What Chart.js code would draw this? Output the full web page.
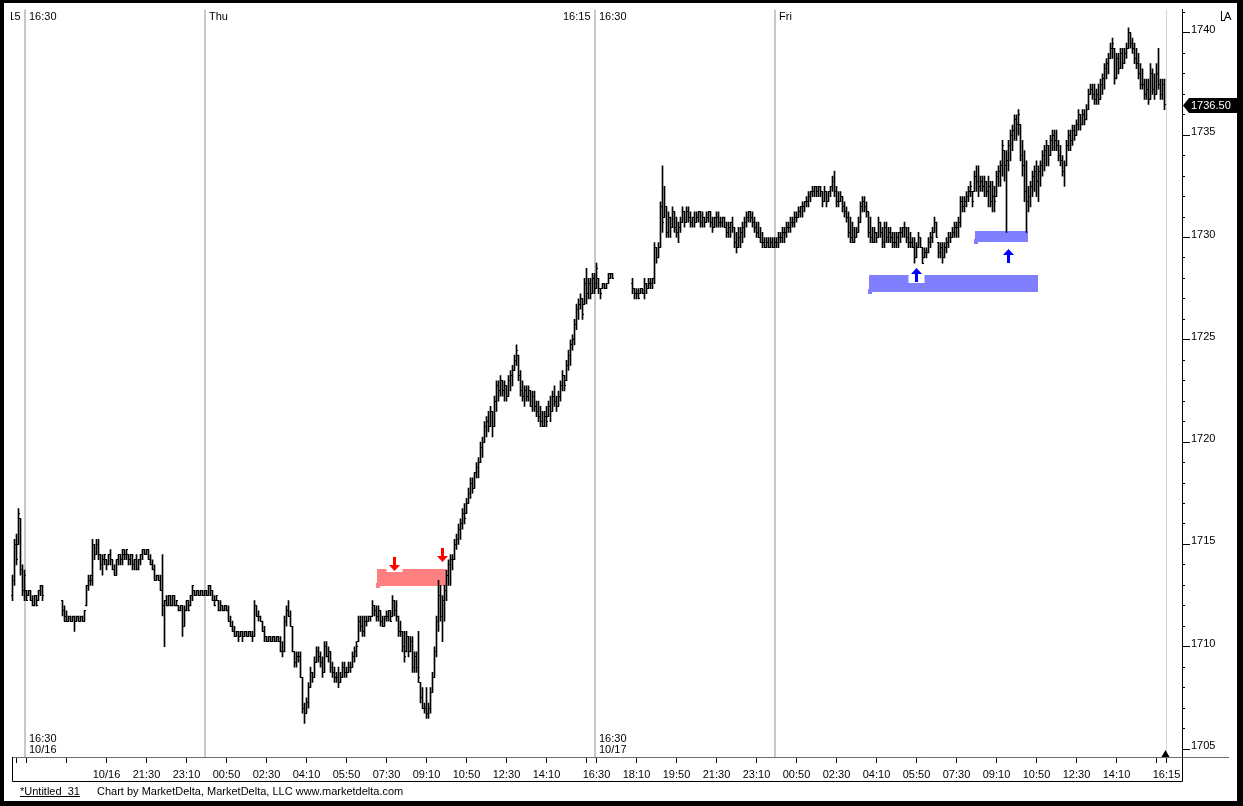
<!DOCTYPE html>
<html><head><meta charset="utf-8">
<script src="https://cdn.jsdelivr.net/npm/chart.js@4.4.1/dist/chart.umd.min.js"></script>
<style>html,body{margin:0;padding:0;background:#fff;overflow:hidden}canvas{display:block}</style>
</head><body>
<canvas id="c" width="1243" height="806"></canvas>
<script>
// ---- 5-minute OHLC bars (index 0 = first visible bar) ----
const highs = [
1713.5,1715.25,1715.5,1716.75,1716.25,1714,1713.75,1712.75,1712.75,1712.75,
1712.5,1712.5,1712.5,1712.75,1713,1713,null,null,null,null,
null,null,null,null,null,1712.25,1712,1711.75,1711.5,1711.5,
1711.5,1711.5,1711.5,1711.5,1711.5,1711.5,1711.75,1713,1713.5,1713.5,
1715.25,1715,1715.25,1715.25,1714.5,1714.5,1714.5,1714.25,1714.5,1714.75,
1714.25,1714,1714.25,1714.5,1714.5,1714.75,1714.75,1714.75,1714.5,1714.5,
1714.5,1714.25,1714.5,1714.25,1714.5,1714.75,1714.75,1714.75,1714.75,1714.5,
1714.25,1714,1713.5,1713.5,1713.5,1714.5,1712.25,1712.5,1712.5,1712.5,
1712.5,1712.5,1712.25,1712,1712,1712,1712,1712.25,1712.25,1712.5,
1713,1712.75,1712.75,1712.75,1712.75,1712.75,1712.75,1712.75,1713,1713,
1712.75,1712.5,1712.5,1712.25,1712.25,1712,1712,1712,1712,1711.5,
1711.25,1711,1710.75,1710.75,1710.75,1710.75,1710.75,1710.75,1710.75,1710.75,
1710.75,1712.25,1712,1711.75,1711.5,1711.25,1711,1710.5,1710.5,1710.5,
1710.5,1710.5,1710.5,1710.5,1710.5,1710.25,1711.5,1712,1712.25,1711.75,
1711,1709.75,1709.75,1709.75,1709.75,1708.5,1707.25,1707.5,1708.25,1709,
1708.75,1709.5,1710,1710,1709.75,1709.5,1710.25,1710.25,1710,1709.75,
1709.25,1709,1708.75,1709,1708.75,1709.25,1709.25,1709,1709.25,1709.25,
1709.75,1710,1710.25,1711.5,1711.5,1711.5,1711.5,1711.5,1711.5,1711.5,
1712.25,1712,1712,1712,1711.75,1711.5,1711.5,1711.75,1711.75,1711.75,
1712.5,1712.25,1712.25,1711.5,1711.25,1710.75,1710.75,1710.75,1710.5,1710.5,
1710.5,1709.75,1709.75,1710.75,1708.25,1708,1707.25,1708,1707.25,1708,
1708.75,1710,1711.5,1713.25,1713,1712.5,1713,1713.75,1714.25,1714.5,
1714.5,1715.25,1715.5,1716,1716.25,1716.75,1717,1717.25,1717.75,1718.25,
1718.25,1718.5,1719,1719.25,1720,1720.25,1721,1721.25,1721.5,1721.75,
1721.5,1722.25,1723,1723,1723.25,1723,1723,1722.75,1723.25,1723.5,
1723.75,1724.25,1724.75,1724.25,1723.5,1723,1722.75,1722.75,1722.75,1722.5,
1722.5,1722.5,1722,1722,1721.75,1721.5,1721.5,1721.75,1722,1722.25,
1722.5,1722.75,1722.25,1722.5,1723,1723.5,1723.25,1724,1724.5,1725,
1725.25,1726,1726.75,1727,1727.25,1727,1728,1728.5,1728,1728,
1728.25,1728.25,1728.75,1728,1727.5,1727.75,1727.75,1727.75,1728.25,1728.25,
1728.25,null,null,null,null,null,null,null,null,null,
1728,1727.5,1727.5,1727.5,1727.5,1727.5,1728,1727.75,1728,1728,
1728,1729.75,1729.5,1729.75,1731.75,1733.5,1732.5,1731.5,1731.25,1731,
1731.5,1731.25,1731,1730.75,1731,1731.5,1731.25,1731.5,1731.5,1731.25,
1731,1731.25,1731.25,1731.25,1731.25,1731.25,1731,1731.25,1731.25,1731.25,
1731,1731,1731.25,1731.25,1731,1731,1731,1730.75,1730.75,1730.75,
1731,1730.5,1730.25,1730.5,1730.5,1730.75,1731,1731.25,1731.25,1731.25,
1731.25,1731,1730.75,1730.75,1730.5,1730.25,1730,1730,1730,1730,
1730,1730,1730,1730.25,1730.25,1730.5,1730.5,1730.75,1730.75,1731,
1731,1731.25,1731.25,1731.5,1731.5,1731.75,1731.75,1732,1732.25,1732.25,
1732.5,1732.5,1732.5,1732.5,1732.5,1732.25,1732.5,1732.25,1732.25,1732.5,
1733,1733.25,1732.5,1732.25,1732.25,1732,1731.75,1731.5,1731.25,1731,
1730.75,1730.5,1730.5,1731,1731.75,1732,1732,1731.75,1731.25,1731,
1730.5,1730.5,1730.25,1731,1730.75,1730.5,1730.75,1730.75,1730.5,1730.5,
1730.25,1730.25,1730.25,1730.25,1730.5,1730.5,1730.75,1730.5,1730.5,1730.25,
1730,1730,1729.75,1730.25,1730,1729.5,1729.5,1729.5,1730,1730.25,
1730.5,1731,1730.75,1729.75,1729.75,1729.75,1729.75,1730,1730.25,1730.25,
1730.5,1730.75,1730.75,1731,1732,1732,1732,1732.25,1732.5,1732.75,
1732.25,1733.25,1733.5,1733.5,1733,1733,1733,1732.75,1733,1732.75,
1732.75,1732.5,1733.25,1733.5,1733.75,1734.75,1734.25,1734.25,1734.75,1735.25,
1735.5,1736,1736,1736.25,1735.5,1734.75,1734.25,1733.75,1732.5,1732.75,
1733.25,1733.5,1733.75,1733.5,1733.75,1734.25,1734.5,1734.75,1734.5,1735,
1735.25,1735.25,1735.25,1734.75,1734.5,1734,1733.75,1734.75,1735.25,1735.25,
1735.5,1735.5,1735.75,1736.25,1736,1736.25,1736.25,1736.5,1737.25,1737.5,
1737.5,1737.5,1737.25,1737.5,1737.75,1738,1738.5,1738.75,1739,1739.5,
1739.75,1739.25,1739,1739,1739.25,1739.25,1739.25,1739.5,1740.25,1740,
1739.75,1739.5,1739.25,1739,1738.5,1738.25,1737.75,1737.75,1737.75,1738.5,
1738.25,1738,1738.5,1739.25,1737.75,1737.75,1737.75
];
const lows = [
1712.25,1713,1714,1715,1713.5,1712.5,1712.25,1712.25,1712.5,1712.25,
1712,1712,1712,1712.25,1712.5,1712.25,null,null,null,null,
null,null,null,null,null,1711.5,1711.25,1711.25,1711.25,1711.25,
1711.25,1710.75,1711.25,1711.25,1711.25,1711.25,1711.25,1712,1712.75,1713,
1713,1714.25,1714.5,1714.25,1713.75,1713.5,1714,1713.75,1714,1714,
1713.75,1713.5,1713.5,1714,1714,1714,1714.25,1714.25,1714,1714,
1713.75,1713.75,1713.75,1713.75,1714,1714.25,1714.5,1714.5,1714.25,1714,
1713.75,1713.25,1713.25,1713.25,1712.75,1711.5,1710,1712,1712,1712,
1712,1712,1712,1711.75,1711.75,1710.5,1711,1711.75,1711.75,1712,
1712.25,1712.5,1712.5,1712.5,1712.5,1712.5,1712.5,1712.5,1712.5,1712.5,
1712.25,1712,1712.25,1711.75,1711.75,1711.75,1711.75,1711.75,1711.25,1711,
1710.75,1710.5,1710.5,1710.25,1710.5,1710.25,1710.5,1710.5,1710.5,1710.5,
1710.25,1710.5,1711.5,1711.25,1711.25,1710.75,1710.25,1710.25,1710.25,1710.25,
1710.25,1710.25,1710.25,1710.25,1709.75,1709.5,1709.75,1711,1711.5,1711,
1709.75,1709,1709,1709.25,1708.5,1706.75,1706.25,1706.75,1707,1708,
1708.25,1708.5,1709.25,1709.25,1709,1708.5,1708.75,1709.5,1709.25,1708.75,
1708.5,1708.25,1708.25,1708,1708.25,1708.5,1708.5,1708.5,1708.75,1708.75,
1709,1709.25,1709.5,1710.25,1710.75,1710.5,1710.5,1711,1711.25,1711.25,
1711.5,1711.5,1711.25,1711.25,1711,1711,1711,1711.25,1711.25,1711.25,
1711.5,1711.5,1711.25,1710.5,1710.5,1709.75,1709.25,1709.75,1709.5,1709.75,
1708.75,1708.75,1708.75,1708.25,1707.25,1707,1706.75,1706.5,1706.5,1706.75,
1707.75,1708.5,1709.5,1710.75,1711.25,1710.25,1711.25,1712.25,1713,1713,
1713.75,1714.25,1714.75,1715,1715.25,1715.75,1716,1716.5,1717,1717.25,
1717.5,1717.75,1718.25,1718.25,1719,1719.25,1720,1720.25,1720.5,1720.75,
1720.25,1720.75,1721.5,1722,1722.25,1722.25,1722,1722,1722.25,1722.5,
1722.75,1723.5,1723.75,1723,1722.25,1722,1721.75,1722,1722,1721.75,
1721.5,1721.5,1721.25,1721,1720.75,1720.75,1720.75,1720.75,1721.25,1721,
1721.5,1721.75,1721.5,1721.75,1722,1722.5,1722.5,1723,1723.5,1723.75,
1724.5,1724.75,1725.5,1726,1726.5,1726,1726.75,1726.75,1727,1727,
1727.25,1727.25,1727.5,1727.25,1727,1727.5,1727.5,1727.5,1727.75,1728,
1728,null,null,null,null,null,null,null,null,null,
1727.25,1727,1727,1727,1727.25,1727.25,1727,1727.25,1727.5,1727.5,
1727.5,1727.75,1728.75,1729,1729.5,1730.25,1731,1730,1730,1730,
1730.5,1730.25,1730,1729.75,1730.25,1730.75,1730.5,1730.75,1730.75,1730.5,
1730.5,1730.5,1730.75,1730.75,1730.5,1730.5,1730.5,1730.75,1730.75,1730.5,
1730.25,1730.5,1730.5,1730.5,1730.5,1730.5,1730.5,1730,1730,1730,
1730.25,1729.5,1729.25,1729.5,1729.5,1729.75,1730,1730.5,1730.75,1730.75,
1730.5,1730.25,1730,1730,1729.75,1729.5,1729.5,1729.5,1729.5,1729.5,
1729.5,1729.5,1729.5,1729.5,1729.75,1729.75,1729.75,1730,1730.25,1730.25,
1730.5,1730.5,1730.75,1731,1731,1731,1731.25,1731.5,1731.5,1731.75,
1732,1732,1732,1732,1732,1731.5,1731.75,1731.5,1731.75,1732,
1732.25,1732,1731.5,1731.5,1731.75,1731.25,1731,1730.75,1730,1729.75,
1729.75,1729.75,1730,1730.25,1730.75,1731.25,1731.25,1731,1730,1729.75,
1729.75,1729.75,1729.75,1730,1730,1729.5,1729.5,1729.75,1729.75,1729.75,
1729.5,1729.5,1729.5,1729.5,1729.75,1730,1730,1729.75,1729.5,1729.5,
1729.5,1728.75,1729,1729.5,1729.5,1728.75,1729,1729,1729.25,1729.5,
1729.75,1730.25,1730,1729,1729,1728.75,1729,1729.25,1729.5,1729.75,
1730,1730,1730,1730,1730.5,1731.25,1731.25,1731.5,1731.75,1732,
1731.5,1732.25,1732.25,1732,1732.25,1732.25,1732,1732,1731.5,1731.5,
1731.25,1731.25,1732,1732.5,1732.5,1733,1732.75,1730.25,1733.25,1733.75,
1734.25,1734.75,1734.75,1735,1733.75,1733,1731.75,1730.25,1731.25,1731.5,
1732,1732.25,1732,1731.75,1732.5,1733,1733.25,1733.5,1733.5,1734,
1734.25,1734.25,1734.25,1733.75,1733.5,1733,1732.5,1733.5,1734.25,1734.25,
1734.5,1734.75,1735,1735.25,1735.25,1735.5,1735.5,1735.75,1736.25,1737,
1736.75,1736.5,1736.5,1736.5,1736.75,1737,1737.25,1737.75,1738,1738.75,
1738.75,1737.5,1737.75,1738,1738.25,1738.25,1738.5,1738.75,1739.25,1739.25,
1739,1738.5,1738.25,1737.75,1737.25,1737.25,1736.75,1736.75,1736.5,1736.75,
1737,1736.75,1737,1737.25,1736.75,1736.75,1736.25
];
const opens = [
1712.5,1713.25,1715,1715,1716.25,1713.75,1712.75,1712.75,1712.5,1712.75,
1712.25,1712,1712.5,1712.25,1712.75,1713,null,null,null,null,
null,null,null,null,null,1712.25,1711.75,1711.5,1711.25,1711.5,
1711.25,1711.5,1711.25,1711.5,1711.25,1711.5,1711.25,1712,1713,1713.25,
1713.25,1715,1714.5,1715,1714.5,1714,1714.25,1714.25,1714,1714.5,
1714.25,1713.75,1713.5,1714.25,1714.5,1714.25,1714.5,1714.5,1714.5,1714.25,
1714.5,1714,1714.25,1713.75,1714.25,1714.5,1714.75,1714.5,1714.75,1714.25,
1714,1713.75,1713.25,1713.5,1713.25,1712.75,1712,1712.25,1712,1712.5,
1712,1712.5,1712,1712,1711.75,1712,1711,1711.75,1712.25,1712,
1712.5,1712.75,1712.5,1712.75,1712.5,1712.75,1712.5,1712.75,1712.5,1713,
1712.75,1712.25,1712.25,1712.25,1711.75,1712,1711.75,1712,1711.75,1711.25,
1711,1710.75,1710.5,1710.75,1710.5,1710.75,1710.5,1710.75,1710.5,1710.75,
1710.5,1710.5,1712,1711.5,1711.5,1711.25,1710.75,1710.5,1710.25,1710.5,
1710.25,1710.5,1710.25,1710.5,1710.25,1709.75,1709.75,1711.25,1711.75,1711.5,
1711,1709.75,1709.25,1709.5,1709.5,1708.5,1707,1706.75,1707.25,1708,
1708.75,1708.5,1709.25,1709.75,1709.5,1709.25,1708.75,1710,1709.5,1709.75,
1709,1708.75,1708.5,1708.5,1708.25,1708.5,1709,1708.75,1708.75,1709,
1709,1709.5,1709.75,1710.25,1711.25,1711,1710.75,1711.25,1711.25,1711.5,
1711.5,1712,1711.75,1711.5,1711.75,1711.25,1711,1711.5,1711.5,1711.75,
1711.5,1712.25,1711.75,1711.5,1710.75,1710.75,1710,1709.75,1710.5,1709.75,
1710.25,1709,1709.5,1709,1708.25,1707.5,1707,1707,1706.75,1707,
1707.75,1708.5,1709.75,1711.25,1712.5,1711.5,1712.25,1712.75,1713.5,1714,
1714.25,1714.25,1715,1715.25,1715.75,1716,1716.5,1716.5,1717,1717.5,
1718,1717.75,1718.5,1718.75,1719,1719.75,1720,1720.75,1721,1720.75,
1721.5,1720.75,1722,1722.75,1722.5,1723,1722.5,1722.75,1722.25,1723,
1723.25,1723.5,1724,1724.25,1723.25,1722.5,1722.25,1722.5,1722.25,1722.5,
1721.75,1722.25,1721.75,1721.5,1721.25,1721,1720.75,1721.25,1721.25,1721.75,
1721.5,1722.25,1722,1721.75,1722.25,1722.75,1723.25,1723,1723.75,1724.25,
1724.75,1725,1725.75,1726.5,1726.75,1727,1726.75,1727.75,1727.25,1727.75,
1727.25,1728,1727.75,1728,1727.5,1727.5,1727.75,1727.5,1727.75,1728,
1728.25,null,null,null,null,null,null,null,null,null,
1727.75,1727.5,1727.25,1727.25,1727.25,1727.5,1727.25,1727.75,1727.5,1727.75,
1727.75,1728,1729.5,1729,1729.5,1731.5,1731,1731.5,1730.25,1731,
1730.5,1731.25,1730.5,1730.25,1730.5,1730.75,1731.25,1730.75,1731.25,1731,
1730.75,1731,1730.75,1731,1731.25,1730.75,1731,1730.75,1731,1731.25,
1730.75,1730.5,1731,1731,1730.75,1730.75,1731,1730.5,1730.25,1730.5,
1730.75,1730.5,1729.75,1729.5,1730,1730.25,1730.5,1730.75,1731,1731.25,
1731,1730.75,1730.5,1730.25,1730,1729.75,1729.75,1729.5,1729.75,1729.5,
1729.75,1729.5,1729.75,1729.75,1730,1730,1730.25,1730.25,1730.5,1730.5,
1730.75,1730.75,1731,1731,1731.25,1731.5,1731.5,1731.75,1731.75,1732,
1732.25,1732.25,1732.5,1732.25,1732.5,1732.25,1731.75,1732.25,1731.75,1732.25,
1732.5,1732.75,1732.25,1731.75,1731.75,1732,1731.5,1731.25,1731,1730.25,
1730,1729.75,1730,1730.25,1730.75,1731.5,1731.75,1731.5,1731.25,1730.25,
1730,1729.75,1730.25,1730,1730.75,1730.25,1729.75,1730.5,1730,1730.25,
1730,1729.75,1729.75,1730,1730.25,1730.25,1730.5,1730.5,1730,1729.75,
1729.75,1729.5,1729,1729.5,1730,1729.5,1729,1729.25,1729.25,1729.75,
1730,1730.25,1730.75,1729.75,1729.25,1729.5,1729,1729.5,1729.75,1730,
1730,1730.25,1730.5,1730.5,1730.75,1731.75,1731.5,1731.75,1732,1732.25,
1732.25,1732.25,1733,1732.75,1732.5,1732.75,1732.5,1732.75,1732.25,1732.5,
1731.75,1732,1732,1733,1733.25,1733.5,1734.25,1733.5,1733.75,1734.5,
1735,1735.25,1735.75,1735.5,1735.5,1734,1733.5,1732.25,1731.75,1732,
1732.5,1733,1733.25,1732.75,1733.25,1733.5,1734,1734.25,1734.5,1734,
1734.75,1735,1734.75,1734.5,1734,1733.75,1733.25,1733.5,1734.5,1735,
1734.75,1735.25,1735,1735.5,1736,1735.5,1736,1735.75,1736.25,1737,
1737.25,1737,1736.75,1737,1736.75,1737.5,1737.75,1738.25,1738.5,1738.75,
1739.25,1739.25,1737.75,1738.75,1738.25,1739,1738.5,1739,1739.25,1740,
1739.5,1739.25,1738.75,1738.5,1738,1737.5,1737.5,1737,1737.25,1736.75,
1738,1737.25,1737,1738,1737.5,1737,1737.5
];
const closes = [
1713.25,1715,1714.25,1716.5,1713.75,1712.75,1713.5,1712.25,1712.75,1712.25,
1712,1712.5,1712,1712.75,1713,1712.5,null,null,null,null,
null,null,null,null,null,1711.75,1711.25,1711.25,1711.5,1711.25,
1711.5,1711.25,1711.5,1711.25,1711.5,1711.25,1711.75,1713,1713.25,1713.5,
1715,1714.5,1715,1714.5,1714,1714.25,1714.5,1714,1714.5,1714.25,
1713.75,1713.5,1714.25,1714.5,1714.25,1714.75,1714.5,1714.75,1714.25,1714.5,
1714,1714.25,1713.75,1714.25,1714.5,1714.75,1714.5,1714.75,1714.25,1714,
1713.75,1713.25,1713.5,1713.25,1712.75,1712,1712.25,1712,1712.5,1712,
1712.5,1712,1712.25,1711.75,1712,1711,1711.75,1712.25,1711.75,1712.5,
1713,1712.5,1712.75,1712.5,1712.75,1712.5,1712.75,1712.5,1713,1712.75,
1712.25,1712,1712.5,1711.75,1712,1711.75,1712,1711.75,1711.25,1711,
1710.75,1710.5,1710.75,1710.5,1710.75,1710.5,1710.75,1710.5,1710.75,1710.5,
1710.5,1712,1711.5,1711.5,1711.25,1710.75,1710.5,1710.25,1710.5,1710.25,
1710.5,1710.25,1710.5,1710.25,1709.75,1709.75,1711.25,1711.75,1711.5,1711,
1709.75,1709.25,1709.5,1709.5,1708.5,1707,1706.75,1707.25,1708,1708.75,
1708.5,1709.25,1709.75,1709.5,1709.25,1708.75,1710,1709.5,1709.75,1709,
1708.75,1708.5,1708.5,1708.25,1708.5,1709,1708.75,1708.75,1709,1709,
1709.5,1709.75,1710,1711.25,1711,1710.75,1711.25,1711.25,1711.5,1711.5,
1712,1711.75,1711.5,1711.75,1711.25,1711,1711.5,1711.5,1711.75,1711.25,
1712.25,1711.75,1711.5,1710.75,1710.75,1710,1709.5,1710.5,1709.75,1710.25,
1709,1709.5,1709,1708.5,1707.5,1707,1707,1706.75,1707,1707.75,
1708.5,1709.75,1711.25,1712.5,1711.5,1712.25,1712.75,1713.5,1714,1714.25,
1714.25,1715,1715.25,1715.75,1716,1716.5,1716.25,1717,1717.5,1718,
1717.75,1718.5,1718.75,1719,1719.75,1720,1720.75,1721,1720.75,1721.5,
1720.75,1722,1722.75,1722.5,1723,1722.5,1722.75,1722.25,1723,1723.25,
1723.5,1724,1724.5,1723.25,1722.5,1722.25,1722.5,1722.25,1722.5,1721.75,
1722.25,1721.75,1721.5,1721.25,1721,1720.75,1721.25,1721,1721.75,1721.5,
1722.25,1722,1721.75,1722.25,1722.75,1723.25,1722.75,1723.75,1724.25,1724.75,
1725,1725.75,1726.5,1726.75,1727,1726.25,1727.75,1727.25,1727.75,1727.25,
1728,1727.5,1728.5,1727.5,1727.25,1727.75,1727.5,1727.75,1728.25,1728.25,
1728,null,null,null,null,null,null,null,null,null,
1727.5,1727.25,1727.25,1727,1727.5,1727.25,1727.75,1727.5,1727.75,1727.75,
1728,1729.5,1729,1729.5,1731.5,1730.75,1731.5,1730.25,1731,1730.5,
1731.25,1730.5,1730.25,1730.5,1730.75,1731.25,1730.75,1731.25,1731,1730.75,
1731,1730.75,1731,1731.25,1730.75,1731,1730.75,1731,1731.25,1730.75,
1730.5,1731,1731,1730.75,1730.75,1731,1730.5,1730.25,1730.5,1730.75,
1730.5,1729.75,1729.5,1730,1730.25,1730.5,1730.75,1731,1731.25,1731,
1730.75,1730.5,1730.25,1730,1729.75,1729.75,1729.5,1729.75,1729.5,1729.75,
1729.5,1729.75,1729.75,1730,1730,1730.25,1730.25,1730.5,1730.5,1730.75,
1730.75,1731,1731,1731.25,1731.5,1731.5,1731.75,1731.75,1732,1732.25,
1732.25,1732.5,1732.25,1732.5,1732.25,1731.75,1732.25,1731.75,1732.25,1732.5,
1732.75,1732.25,1731.75,1731.75,1732,1731.5,1731.25,1731,1730.25,1730,
1729.75,1730,1730.25,1730.75,1731.5,1731.75,1731.5,1731.25,1730.25,1730,
1729.75,1730.25,1730,1730.75,1730.25,1729.75,1730.5,1730,1730.25,1730,
1729.75,1729.75,1730,1730.25,1730.25,1730.5,1730.5,1730,1729.75,1729.75,
1729.5,1729,1729.5,1730,1729.5,1728.75,1729.25,1729.25,1729.75,1730,
1730.25,1730.75,1730,1729.25,1729.5,1729,1729.5,1729.75,1730,1730,
1730.25,1730.5,1730.5,1730.75,1731.75,1731.5,1731.75,1732,1732.25,1732.5,
1731.75,1733,1732.75,1732.5,1732.75,1732.5,1732.75,1732.25,1732.5,1731.75,
1732,1731.75,1733,1733.25,1733.5,1734.5,1733.5,1733.75,1734.5,1735,
1735.25,1735.75,1735.5,1736,1734,1733.5,1732.25,1731.75,1732,1732.5,
1733,1733.25,1732.75,1733.25,1733.5,1734,1734.25,1734.5,1734,1734.75,
1735,1734.75,1734.5,1734,1733.75,1733.25,1733.5,1734.5,1735,1734.75,
1735.25,1735,1735.5,1736,1735.5,1736,1735.75,1736.25,1737,1737.25,
1737,1736.75,1737,1736.75,1737.5,1737.75,1738.25,1738.5,1738.75,1739.25,
1739.5,1737.75,1738.75,1738.25,1739,1738.5,1739,1739.25,1740,1739.5,
1739.25,1738.75,1738.5,1738,1737.5,1737.5,1737,1737.25,1736.75,1738,
1737.25,1737,1738,1737.5,1737,1737.5,1736.5
];

// ---- axis ticks / labels ----
const xTickIdx  = [2,7,27,47,67,87,107,127,147,167,187,207,227,247,267,287,292,312,332,352,372,392,412,432,452,472,492,512,532,552,572,577];
const xTickText = ['','','','10/16','21:30','23:10','00:50','02:30','04:10','05:50','07:30','09:10','10:50','12:30','14:10','','16:30','18:10','19:50','21:30','23:10','00:50','02:30','04:10','05:50','07:30','09:10','10:50','12:30','14:10','','16:15'];
const yMajorTicks = [1705,1710,1715,1720,1725,1730,1735,1740];
const yMinorTicks = [1705,1706,1707,1708,1709,1710,1711,1712,1713,1714,1715,1716,1717,1718,1719,1720,1721,1722,1723,1724,1725,1726,1727,1728,1729,1730,1731,1732,1733,1734,1735,1736,1737,1738,1739,1740,1741];

// session / day separators (bar-index positions) and their labels
const sepIdx = [6.25, 96.25, 291.25, 381.25];
const topLabelIdx  = [6.25, 6.25, 96.25, 291.25, 291.25, 381.25];
const topLabelText = ['16:15','16:30','Thu','16:15','16:30','Fri'];
const topLabelSide = [-1, 1, 1, -1, 1, 1];
const dateLabelIdx = [6.25, 291.25];
const dateLabelText = [['16:30','10/16'], ['16:30','10/17']];
const currentIdx = 577;

// zones (bar index range, price range) and arrows (bar index, tip price, direction)
const zoneStart = [182.25, 428.25, 481.25];
const zoneEnd   = [216.75, 512.75, 507.6];
const zoneLow   = [1712.97, 1727.33, 1729.77];
const zoneHigh  = [1713.79, 1728.15, 1730.30];
const arrowIdx  = [190.9, 214.9, 451.9, 497.9];
const arrowTip  = [1713.70, 1714.13, 1728.49, 1729.46];
const arrowDir  = [-1, -1, 1, 1];
const lastPriceLabel = '1736.50';

// ---- styles ----
const zoneColors = ['#ff8080', '#8080ff', '#8080ff'];
const arrowColors = ['#ff0000', '#ff0000', '#0000ff', '#0000ff'];
const FONT = '"Liberation Sans", Arial, sans-serif';

// 3x1 pixel tick images: open tick on the left of the bar, close tick on the right
function tickImage(side) {
  const cv = document.createElement('canvas');
  cv.width = 3; cv.height = 1;
  const g = cv.getContext('2d');
  g.fillStyle = '#000';
  if (side < 0) g.fillRect(0, 0, 2, 1); else g.fillRect(1, 0, 2, 1);
  return cv;
}
const openImg = tickImage(-1), closeImg = tickImage(1);

const hlData = [], openData = [], closeData = [];
for (let i = 0; i < highs.length; i++) {
  if (highs[i] === null) continue;
  hlData.push({x: i, y: [lows[i], highs[i]]});
  openData.push({x: i, y: opens[i]});
  closeData.push({x: i, y: closes[i]});
}

const decor = {
  id: 'decor',
  beforeDraw(chart) {
    const c = chart.ctx;
    c.save(); c.fillStyle = '#fff'; c.fillRect(0, 0, chart.width, chart.height); c.restore();
  },
  beforeDatasetsDraw(chart) {
    const c = chart.ctx, a = chart.chartArea, xs = chart.scales.x, ys = chart.scales.y;
    c.save();
    c.strokeStyle = '#c8c8c8'; c.lineWidth = 2;
    sepIdx.forEach(v => {
      const x = Math.round(xs.getPixelForValue(v));
      c.beginPath(); c.moveTo(x, a.top); c.lineTo(x, a.bottom); c.stroke();
    });
    c.strokeStyle = '#d4d4d4'; c.lineWidth = 1;
    const xc = Math.floor(xs.getPixelForValue(currentIdx)) + 0.5;
    c.beginPath(); c.moveTo(xc, a.top); c.lineTo(xc, a.bottom); c.stroke();
    for (let k = 0; k < zoneStart.length; k++) {
      const x1 = Math.round(xs.getPixelForValue(zoneStart[k]));
      const x2 = Math.round(xs.getPixelForValue(zoneEnd[k]));
      const y1 = Math.round(ys.getPixelForValue(zoneHigh[k]));
      const y2 = Math.round(ys.getPixelForValue(zoneLow[k]));
      c.fillStyle = zoneColors[k];
      c.fillRect(x1, y1, x2 - x1, y2 - y1);
      c.fillRect(x1 - 1, y2 - 3, 4, 5);
    }
    for (let k = 0; k < arrowIdx.length; k++) {
      const cx = Math.round(xs.getPixelForValue(arrowIdx[k])) + 0.5;
      const yt = Math.round(ys.getPixelForValue(arrowTip[k]));
      const d = arrowDir[k];
      const yEnd = yt + 14 * d;
      c.fillStyle = '#fff';
      if (d < 0) c.fillRect(cx - 8, yEnd - 1, 16, 16); else c.fillRect(cx - 8, yt - 1, 16, 16);
      c.fillStyle = arrowColors[k];
      const yh = yt + 6 * d;
      c.beginPath();
      c.moveTo(cx, yt); c.lineTo(cx + 5.5, yh); c.lineTo(cx - 5.5, yh); c.closePath(); c.fill();
      c.fillRect(cx - 1.5, Math.min(yh, yEnd), 3, Math.abs(yEnd - yh));
    }
    c.restore();
    // crisp tick images for the open/close points
    c.imageSmoothingEnabled = false;
  },
  afterDatasetsDraw(chart) {
    chart.ctx.imageSmoothingEnabled = true;
  },
  afterDraw(chart) {
    const c = chart.ctx, a = chart.chartArea, xs = chart.scales.x, ys = chart.scales.y;
    c.save();
    c.font = '11px ' + FONT; c.fillStyle = '#000'; c.textBaseline = 'alphabetic';
    c.save(); c.beginPath(); c.rect(11, 0, a.right - 11, 40); c.clip();
    for (let k = 0; k < topLabelIdx.length; k++) {
      const x = xs.getPixelForValue(topLabelIdx[k]);
      if (topLabelSide[k] < 0) { c.textAlign = 'right'; c.fillText(topLabelText[k], x - 4.5, 20); }
      else { c.textAlign = 'left'; c.fillText(topLabelText[k], x + 4, 20); }
    }
    c.restore();
    c.textAlign = 'left';
    for (let k = 0; k < dateLabelIdx.length; k++) {
      const x = xs.getPixelForValue(dateLabelIdx[k]) + 4;
      c.fillText(dateLabelText[k][0], x, 742);
      c.fillText(dateLabelText[k][1], x, 753);
    }
    c.lineWidth = 1;
    c.strokeStyle = '#6e6e6e';
    c.beginPath(); c.moveTo(12, a.bottom + 0.5); c.lineTo(1229, a.bottom + 0.5); c.stroke();
    c.strokeStyle = '#000';
    c.beginPath();
    c.moveTo(12.5, a.bottom); c.lineTo(12.5, 781.5); c.lineTo(a.right + 0.5, 781.5); c.lineTo(a.right + 0.5, a.top);
    c.stroke();
    const tx = Math.round(xs.getPixelForValue(576)) + 0.5;
    c.fillStyle = '#000';
    c.beginPath(); c.moveTo(tx, a.bottom - 7); c.lineTo(tx + 4, a.bottom); c.lineTo(tx - 4, a.bottom); c.closePath(); c.fill();
    const py = Math.round(ys.getPixelForValue(closes[closes.length - 1]));
    c.beginPath();
    c.moveTo(a.right + 1, py + 0.5); c.lineTo(a.right + 7, py - 7); c.lineTo(1243, py - 7); c.lineTo(1243, py + 8); c.lineTo(a.right + 7, py + 8); c.closePath();
    c.fill();
    c.fillStyle = '#fff'; c.textBaseline = 'middle';
    c.fillText(lastPriceLabel, a.right + 9, py + 1);
    c.fillStyle = '#000'; c.textBaseline = 'alphabetic';
    c.fillText('A', 1224, 20);
    c.fillRect(1221, 11, 1, 10); c.fillRect(1221, 20, 4, 1);
    c.fillText('*Untitled_31', 20, 795);
    c.fillRect(20, 796, c.measureText('*Untitled_31').width, 1);
    c.fillText('Chart by MarketDelta, MarketDelta, LLC www.marketdelta.com', 97, 795);
    c.fillRect(0, 0, 1243, 3);
    c.fillRect(0, 0, 4, 806);
    c.fillRect(1237, 0, 6, 806);
    c.fillRect(0, 801, 1243, 5);
    c.restore();
  }
};

Chart.defaults.font.family = FONT;
Chart.defaults.font.size = 11;
Chart.defaults.color = '#000';

new Chart(document.getElementById('c'), {
  type: 'bar',
  data: {
    datasets: [
      { type: 'bar', data: hlData, backgroundColor: '#000', borderWidth: 0, barThickness: 1, minBarLength: 1, xAxisID: 'x', yAxisID: 'y' },
      { type: 'scatter', data: openData, xAxisID: 'x', yAxisID: 'y', pointStyle: openImg, pointRadius: 1, pointHoverRadius: 1, pointBorderWidth: 0 },
      { type: 'scatter', data: closeData, xAxisID: 'x', yAxisID: 'y', pointStyle: closeImg, pointRadius: 1, pointHoverRadius: 1, pointBorderWidth: 0 }
    ]
  },
  options: {
    responsive: false, animation: false, devicePixelRatio: 1, events: [],
    layout: { padding: { left: 5, top: 9, right: 0, bottom: 0 } },
    plugins: { legend: { display: false }, tooltip: { enabled: false } },
    scales: {
      x: {
        type: 'linear', position: 'bottom', min: -3.75, max: 584.75, offset: false,
        grid: { drawOnChartArea: false, drawTicks: true, tickLength: 6, color: '#000', offset: false },
        border: { display: false },
        afterBuildTicks: ax => { ax.ticks = xTickIdx.map(v => ({ value: v })); },
        afterFit: ax => { ax.height = 49; },
        ticks: { autoSkip: false, maxRotation: 0, minRotation: 0, padding: 5, color: '#000', font: { size: 11 },
                 callback: (v, i) => xTickText[i] }
      },
      y: {
        type: 'linear', position: 'right', min: 1704.61, max: 1741.14, beginAtZero: false, weight: 0,
        grid: { drawOnChartArea: false, drawTicks: true, tickLength: 3, color: '#000' },
        border: { display: true, color: '#000' },
        afterBuildTicks: ax => { ax.ticks = yMinorTicks.map(v => ({ value: v })); },
        afterFit: ax => { ax.width = 0; },
        ticks: { callback: () => '' }
      },
      y2: {
        type: 'linear', position: 'right', min: 1704.61, max: 1741.14, beginAtZero: false, weight: 1,
        grid: { drawOnChartArea: false, drawTicks: true, tickLength: 8, color: '#000' },
        border: { display: false },
        afterBuildTicks: ax => { ax.ticks = yMajorTicks.map(v => ({ value: v })); },
        afterFit: ax => { ax.width = 61; },
        ticks: { padding: 1, labelOffset: -3, color: '#000', font: { size: 11 }, callback: v => String(v) }
      }
    }
  },
  plugins: [decor]
});
</script>
</body></html>
